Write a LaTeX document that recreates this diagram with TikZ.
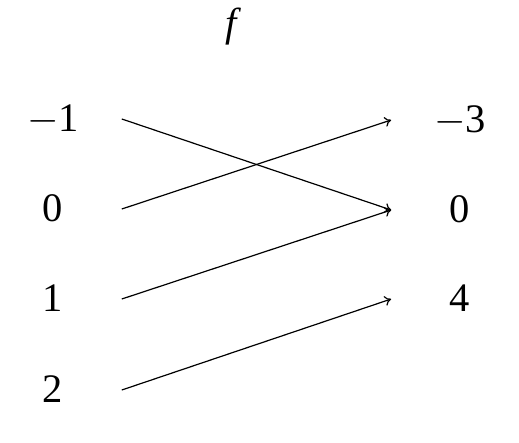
\documentclass[tikz,border=0pt]{standalone}
\usepackage{fontspec}
\setmainfont{Liberation Serif}
\usetikzlibrary{arrows.meta}
\begin{document}
\begin{tikzpicture}[x=1pt,y=-1pt,
  big/.style={scale=4.05},
  lbl/.style={big,inner sep=0pt,text height=6.17pt,text depth=0pt,minimum width=33.58pt,align=center},
  arr/.style={-{To[length=6.5pt,width=10pt]},line width=1.2pt}]
\useasboundingbox (0,0) rectangle (519,443);
\node[big] (f) at (233,27) {\textit{f}};
\node[lbl] (a1) at (53,119) {$-$1};
\node[lbl] (a2) at (53,209) {0};
\node[lbl] (a3) at (53,299) {1};
\node[lbl] (a4) at (53,390) {2};
\node[lbl] (b1) at (460,120) {$-$3};
\node[lbl] (b2) at (460,210) {0};
\node[lbl] (b3) at (460,299) {4};
\draw[arr] (a1.east) -- (b2.west);
\draw[arr] (a2.east) -- (b1.west);
\draw[arr] (a3.east) -- (b2.west);
\draw[arr] (a4.east) -- (b3.west);
\end{tikzpicture}
\end{document}
